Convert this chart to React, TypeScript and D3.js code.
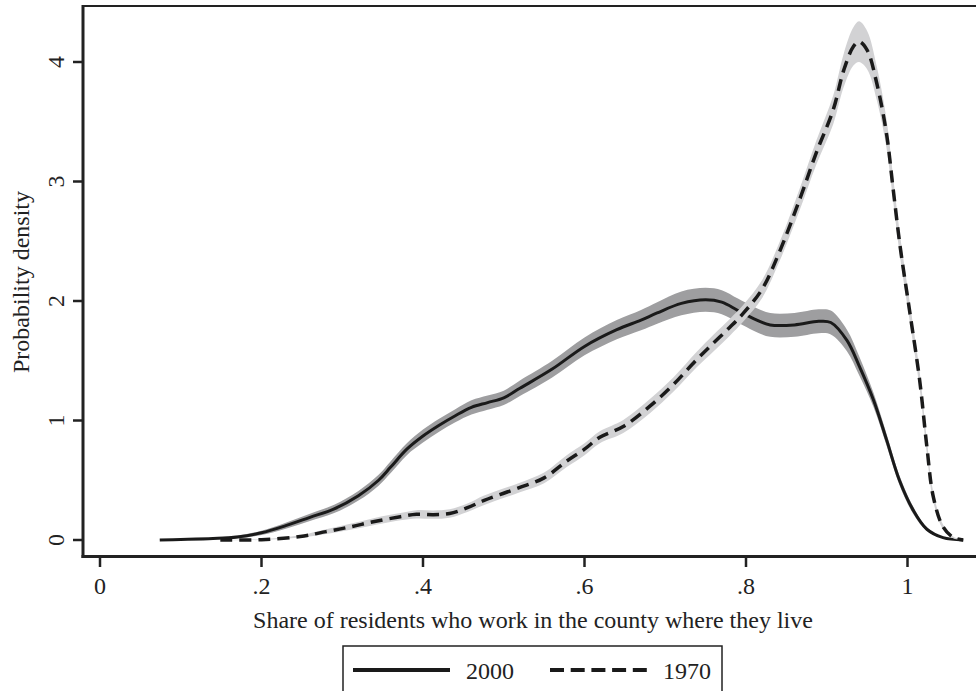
import * as d3 from "d3";
import { useEffect, useRef } from "react";

// share of residents working in home county (x) and kernel density (y)
const x2000 = [0.074, 0.10, 0.14, 0.17, 0.20, 0.23, 0.26, 0.29, 0.32, 0.345, 0.36, 0.38, 0.40, 0.42, 0.44, 0.46, 0.48, 0.50, 0.52, 0.56, 0.60, 0.64, 0.67, 0.69, 0.72, 0.75, 0.77, 0.79, 0.81, 0.83, 0.86, 0.89, 0.905, 0.925, 0.94, 0.958, 0.974, 0.99, 1.007, 1.024, 1.044, 1.069];
const y2000 = [0, 0.004, 0.012, 0.025, 0.06, 0.12, 0.19, 0.26, 0.37, 0.50, 0.61, 0.76, 0.87, 0.96, 1.04, 1.11, 1.15, 1.19, 1.27, 1.43, 1.62, 1.76, 1.84, 1.90, 1.98, 2.01, 1.99, 1.92, 1.85, 1.80, 1.80, 1.83, 1.82, 1.67, 1.46, 1.17, 0.84, 0.50, 0.25, 0.09, 0.02, 0];
const ci2000 = [0.003, 0.004, 0.007, 0.012, 0.018, 0.025, 0.03, 0.035, 0.04, 0.045, 0.05, 0.05, 0.055, 0.055, 0.055, 0.06, 0.06, 0.06, 0.065, 0.07, 0.075, 0.08, 0.085, 0.09, 0.1, 0.1, 0.1, 0.1, 0.1, 0.1, 0.1, 0.1, 0.1, 0.09, 0.08, 0.06, 0.05, 0.04, 0.03, 0.015, 0.006, 0.002];

const x1970 = [0.149, 0.20, 0.248, 0.28, 0.31, 0.34, 0.372, 0.392, 0.413, 0.433, 0.455, 0.475, 0.495, 0.52, 0.55, 0.578, 0.60, 0.619, 0.648, 0.681, 0.71, 0.739, 0.76, 0.78, 0.797, 0.82, 0.842, 0.867, 0.887, 0.908, 0.921, 0.933, 0.94, 0.95, 0.962, 0.974, 0.982, 0.991, 1.003, 1.015, 1.024, 1.032, 1.044, 1.057, 1.069];
const y1970 = [0, 0.003, 0.03, 0.07, 0.11, 0.155, 0.195, 0.215, 0.212, 0.222, 0.27, 0.33, 0.38, 0.44, 0.52, 0.66, 0.76, 0.86, 0.95, 1.12, 1.30, 1.51, 1.65, 1.78, 1.90, 2.10, 2.42, 2.86, 3.24, 3.60, 3.93, 4.13, 4.17, 4.10, 3.82, 3.40, 2.95, 2.45, 1.90, 1.34, 0.78, 0.36, 0.11, 0.02, 0];
const ci1970 = [0.002, 0.004, 0.01, 0.02, 0.025, 0.03, 0.03, 0.035, 0.035, 0.035, 0.035, 0.04, 0.04, 0.04, 0.045, 0.05, 0.05, 0.05, 0.055, 0.06, 0.06, 0.065, 0.07, 0.07, 0.07, 0.075, 0.08, 0.09, 0.1, 0.12, 0.14, 0.16, 0.17, 0.16, 0.14, 0.12, 0.1, 0.09, 0.08, 0.07, 0.06, 0.04, 0.02, 0.008, 0.002];

const xTicks = [0, 0.2, 0.4, 0.6, 0.8, 1];
const yTicks = [0, 1, 2, 3, 4];
const seriesNames = ["2000", "1970"];

const W = 976, H = 691;
const FONT = "'Liberation Serif', 'Times New Roman', serif";

const App = () => {
  const ref = useRef(null);

  useEffect(() => {
    const svg = d3.select(ref.current);
    svg.selectAll("*").remove();

    const x = d3.scaleLinear().domain([0, 1]).range([100, 907.5]);
    const y = d3.scaleLinear().domain([0, 4]).range([540, 62]);
    const left = 83, top = 6, bottom = 556.5;

    const mk = (xs, ys, cis) => xs.map((v, i) => ({ x: v, y: ys[i], ci: cis[i] }));
    const d2000 = mk(x2000, y2000, ci2000);
    const d1970 = mk(x1970, y1970, ci1970);

    const band = d3.area()
      .x((d) => x(d.x))
      .y0((d) => y(Math.max(0, d.y - d.ci)))
      .y1((d) => y(d.y + d.ci))
      .curve(d3.curveCatmullRom);
    const line = d3.line()
      .x((d) => x(d.x))
      .y((d) => y(d.y))
      .curve(d3.curveCatmullRom);

    // bands and lines, in plotting order
    svg.append("path").datum(d2000).attr("d", band).attr("fill", "#9e9ea0");
    svg.append("path").datum(d2000).attr("d", line)
      .attr("fill", "none").attr("stroke", "#1a1a1a").attr("stroke-width", 3);
    svg.append("path").datum(d1970).attr("d", band).attr("fill", "#d2d2d4");
    svg.append("path").datum(d1970).attr("d", line)
      .attr("fill", "none").attr("stroke", "#1a1a1a").attr("stroke-width", 3.5)
      .attr("stroke-dasharray", "12,7");

    // frame
    svg.append("line").attr("x1", left).attr("x2", W).attr("y1", top).attr("y2", top)
      .attr("stroke", "#222").attr("stroke-width", 2);
    svg.append("line").attr("x1", left).attr("x2", left).attr("y1", top - 1).attr("y2", bottom + 1.5)
      .attr("stroke", "#222").attr("stroke-width", 3);
    svg.append("line").attr("x1", left - 1.5).attr("x2", W).attr("y1", bottom).attr("y2", bottom)
      .attr("stroke", "#222").attr("stroke-width", 3);

    // x axis
    const fmt = (d) => (d === 0 ? "0" : d === 1 ? "1" : String(d).replace("0.", "."));
    const gx = svg.append("g");
    xTicks.forEach((t) => {
      gx.append("line").attr("x1", x(t)).attr("x2", x(t)).attr("y1", bottom).attr("y2", 567)
        .attr("stroke", "#222").attr("stroke-width", 2.5);
      gx.append("text").attr("x", x(t)).attr("y", 594).attr("text-anchor", "middle")
        .attr("font-family", FONT).attr("font-size", 24).attr("fill", "#222").text(fmt(t));
    });
    svg.append("text").attr("x", 533).attr("y", 628).attr("text-anchor", "middle")
      .attr("font-family", FONT).attr("font-size", 24).attr("fill", "#222")
      .text("Share of residents who work in the county where they live");

    // y axis
    const gy = svg.append("g");
    yTicks.forEach((t) => {
      gy.append("line").attr("x1", 73).attr("x2", left).attr("y1", y(t)).attr("y2", y(t))
        .attr("stroke", "#222").attr("stroke-width", 2.5);
      gy.append("text").attr("transform", `translate(64,${y(t)}) rotate(-90)`)
        .attr("text-anchor", "middle")
        .attr("font-family", FONT).attr("font-size", 24).attr("fill", "#222").text(String(t));
    });
    svg.append("text").attr("transform", "translate(29,282) rotate(-90)")
      .attr("text-anchor", "middle")
      .attr("font-family", FONT).attr("font-size", 24).attr("fill", "#222")
      .text("Probability density");

    // legend
    const lg = svg.append("g");
    lg.append("rect").attr("x", 343).attr("y", 646).attr("width", 379).attr("height", 60)
      .attr("fill", "white").attr("stroke", "#222").attr("stroke-width", 1.5);
    lg.append("line").attr("x1", 353).attr("x2", 450).attr("y1", 670).attr("y2", 670)
      .attr("stroke", "#1a1a1a").attr("stroke-width", 4);
    lg.append("text").attr("x", 466).attr("y", 679).attr("font-family", FONT)
      .attr("font-size", 24).attr("fill", "#222").text(seriesNames[0]);
    lg.append("line").attr("x1", 550).attr("x2", 647).attr("y1", 670).attr("y2", 670)
      .attr("stroke", "#1a1a1a").attr("stroke-width", 4).attr("stroke-dasharray", "14,6.7");
    lg.append("text").attr("x", 663).attr("y", 679).attr("font-family", FONT)
      .attr("font-size", 24).attr("fill", "#222").text(seriesNames[1]);
  }, []);

  return (
    <svg ref={ref} width={W} height={H}
      style={{ position: "absolute", left: 0, top: 0, background: "#fff" }} />
  );
};

export default App;
